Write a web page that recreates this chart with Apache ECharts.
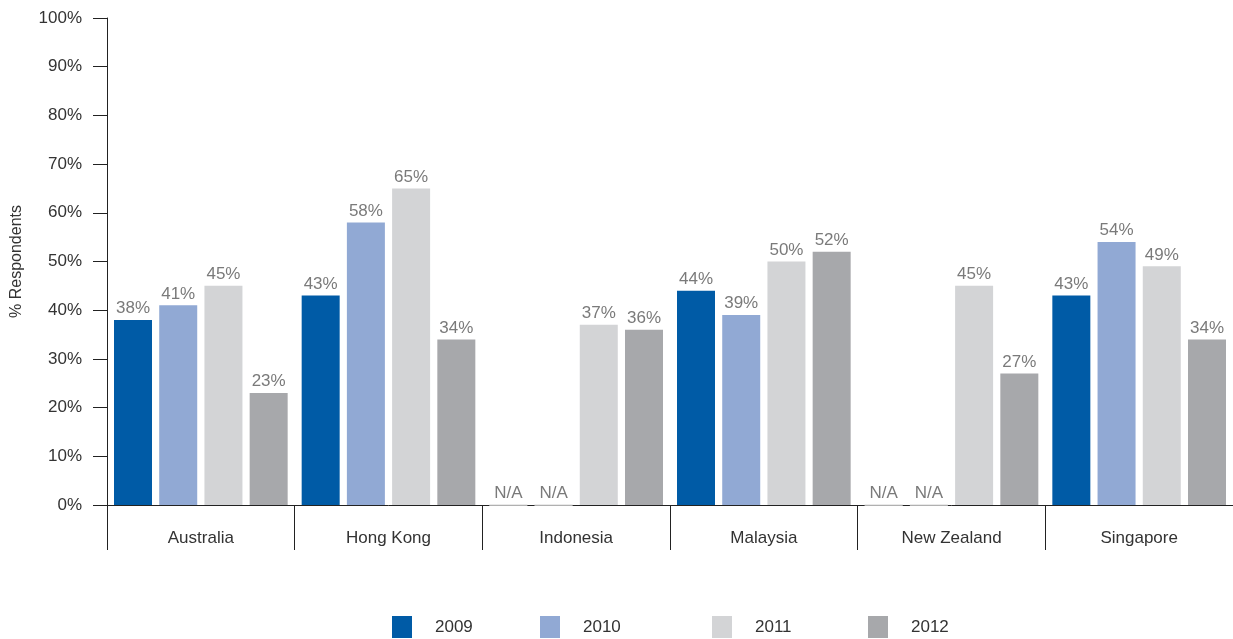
<!DOCTYPE html>
<html>
<head>
<meta charset="utf-8">
<script src="https://cdn.jsdelivr.net/npm/echarts@6/dist/echarts.min.js"></script>
<style>
  html, body { margin: 0; padding: 0; background: #fff; }
  #chart { width: 1233px; height: 639px; }
</style>
</head>
<body>
<div id="chart"></div>
<script>
// Share of respondents by market and survey year (null = not surveyed)
const categories = ['Australia', 'Hong Kong', 'Indonesia', 'Malaysia', 'New Zealand', 'Singapore'];
const years = ['2009', '2010', '2011', '2012'];
const values2009 = [38, 43, null, 44, null, 43];
const values2010 = [41, 58, null, 39, null, 54];
const values2011 = [45, 65, 37, 50, 45, 49];
const values2012 = [23, 34, 36, 52, 27, 34];
const yTicks = [0, 10, 20, 30, 40, 50, 60, 70, 80, 90, 100];

const colors = ['#005BA6', '#91A9D4', '#D3D4D6', '#A7A8AB'];
const seriesValues = [values2009, values2010, values2011, values2012];
const FONT = '"Liberation Sans", Arial, sans-serif';

const series = seriesValues.map((vals, i) => ({
  name: years[i],
  type: 'bar',
  barWidth: 38,
  barGap: '19%',
  itemStyle: { color: colors[i] },
  label: {
    show: true,
    position: 'top',
    distance: 3,
    color: '#7a7a7a',
    fontFamily: FONT,
    fontSize: 17,
    formatter: p => p.data && p.data.na ? 'N/A' : p.value + '%'
  },
  data: vals.map(v => v === null
    ? { value: 0, na: true, itemStyle: { color: '#fff', borderColor: '#e0e0e0', borderWidth: 1 } }
    : v)
}));

// one legend per year so each entry can sit at its own position
const legendLeft = [392, 540, 712, 868];
const legends = years.map((y, i) => ({
  data: [y],
  left: legendLeft[i],
  top: 616,
  padding: 0,
  itemWidth: 20,
  itemHeight: 22,
  icon: 'rect',
  selectedMode: false,
  textStyle: { fontFamily: FONT, fontSize: 17, color: '#333', padding: [0, 0, 0, 18] }
}));

const chart = echarts.init(document.getElementById('chart'), null, { renderer: 'canvas' });
chart.setOption({
  animation: false,
  color: colors,
  legend: legends,
  grid: { left: 107, right: -2, top: 18, bottom: 134, containLabel: false },
  xAxis: {
    type: 'category',
    data: categories,
    boundaryGap: true,
    axisLine: { show: true, lineStyle: { color: '#222', width: 1 } },
    axisTick: { show: true, length: 45, lineStyle: { color: '#222', width: 1 } },
    axisLabel: { margin: 25, fontFamily: FONT, fontSize: 17, color: '#333' }
  },
  yAxis: {
    type: 'value',
    min: yTicks[0],
    max: yTicks[yTicks.length - 1],
    interval: 10,
    name: '% Respondents',
    nameLocation: 'middle',
    nameGap: 82,
    nameRotate: 90,
    nameTextStyle: { fontFamily: FONT, fontSize: 16, color: '#333' },
    axisLine: { show: true, lineStyle: { color: '#222', width: 1 } },
    axisTick: { show: true, length: 14, lineStyle: { color: '#222', width: 1 } },
    splitLine: { show: false },
    axisLabel: {
      margin: 25,
      fontFamily: FONT,
      fontSize: 17,
      color: '#333',
      formatter: v => yTicks.includes(v) ? v + '%' : ''
    }
  },
  series: series
});
</script>
</body>
</html>
